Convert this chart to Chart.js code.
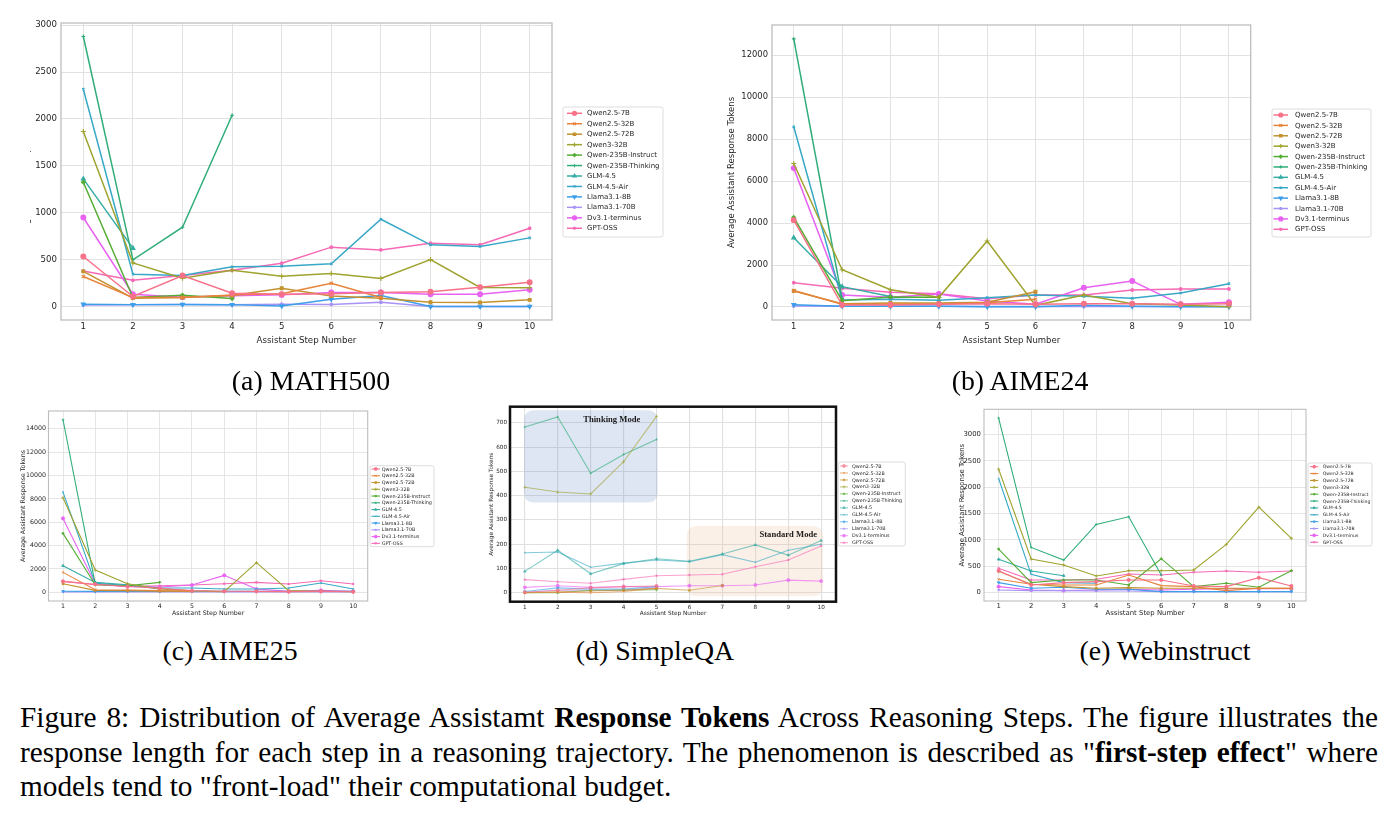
<!DOCTYPE html>
<html><head><meta charset="utf-8">
<script src="https://cdn.jsdelivr.net/npm/chart.js@4.4.0/dist/chart.umd.min.js"></script>
<style>
html,body{margin:0;padding:0;background:#fff;width:1396px;height:818px;overflow:hidden;position:relative;}
canvas{position:absolute;}
.sub{position:absolute;width:400px;text-align:center;font-family:"Liberation Serif","Times New Roman",serif;font-size:27.8px;line-height:30px;color:#000;}
.cap{position:absolute;left:20px;top:700px;width:1358px;font-family:"Liberation Serif","Times New Roman",serif;font-size:29.3px;line-height:34.5px;color:#000;}
.cap .j{text-align:justify;text-align-last:justify;}
.crop{position:absolute;left:0;top:0;width:30px;height:350px;background:#fff;}
</style></head>
<body>
<canvas id="cA" width="680" height="350" style="left:0px;top:0px"></canvas>
<canvas id="cB" width="696" height="350" style="left:700px;top:0px"></canvas>
<canvas id="cC" width="450" height="230" style="left:0px;top:395px"></canvas>
<canvas id="cD" width="450" height="230" style="left:460px;top:395px"></canvas>
<canvas id="cE" width="470" height="230" style="left:920px;top:395px"></canvas>
<div class="crop"></div>

<div class="sub" style="left:111px;top:366px">(a) MATH500</div>
<div class="sub" style="left:820px;top:366px">(b) AIME24</div>
<div class="sub" style="left:30px;top:636px">(c) AIME25</div>
<div class="sub" style="left:455px;top:636px">(d) SimpleQA</div>
<div class="sub" style="left:965px;top:636px">(e) Webinstruct</div>

<div class="cap">
<div class="j">Figure 8: Distribution of Average Assistamt <b>Response Tokens</b> Across Reasoning Steps. The figure illustrates the</div>
<div class="j">response length for each step in a reasoning trajectory. The phenomenon is described as "<b>first-step effect</b>" where</div>
<div>models tend to "front-load" their computational budget.</div>
</div>

<script>
// ---------------- data ----------------
const STEPS = [1, 2, 3, 4, 5, 6, 7, 8, 9, 10];
const MODELS = ['Qwen2.5-7B','Qwen2.5-32B','Qwen2.5-72B','Qwen3-32B','Qwen-235B-Instruct','Qwen-235B-Thinking',
                'GLM-4.5','GLM-4.5-Air','Llama3.1-8B','Llama3.1-70B','Dv3.1-terminus','GPT-OSS'];

// rows follow MODELS order; values per assistant step
const MATH500 = [
  [533, 107, 330, 142, 132, 135, 150, 158, 206, 259],
  [320, 95, 95, 124, 135, 249, 96],
  [375, 89, 95, 118, 195, 112, 89, 46, 43, 71],
  [1866, 465, 302, 387, 323, 352, 300, 501, 203, 200],
  [1326, 96, 120, 85],
  [2880, 498, 846, 2040],
  [1361, 622],
  [2318, 345, 330, 423, 430, 455, 931, 658, 640, 732],
  [25, 20, 22, 20, 5, 78, 117, 0, 0, 0],
  [15, 18, 22, 18, 25, 22, 46, 0, 0, 0],
  [949, 131, 100, 114, 124, 149, 149, 131, 131, 178],
  [378, 279, 330, 387, 462, 633, 604, 675, 658, 835]
];
const AIME24 = [
  [4140, 95, 95, 127, 160, 127, 159, 159, 127, 159],
  [790, 127, 140, 140, 206, 365],
  [762, 159, 190, 190, 222, 730],
  [6841, 1778, 825, 460, 3143, 79, 571, 159, 95, 16],
  [4270, 300, 480, 460],
  [12778, 400],
  [3302, 968, 500],
  [8587, 333, 365, 317, 444, 571, 508, 413, 667, 1111],
  [110, 40, 30, 30, 10, 10, 80, 30, 10, 10],
  [50, 40, 30, 30, 20, 20, 20, 20, 20, 20],
  [6619, 571, 460, 619, 286, 127, 920, 1238, 127, 222],
  [1159, 889, 700, 635, 397, 571, 571, 810, 857, 857]
];
const AIME25 = [
  [941, 700, 500, 350, 150, 100, 80, 60, 80, 50],
  [1711, 228, 200, 150, 100],
  [741, 171, 150, 100, 80],
  [8098, 1910, 741, 300, 130, 60, 2538, 150, 100, 60],
  [5047, 656, 570, 855],
  [14770, 700],
  [2281, 850, 650, 300],
  [8583, 780, 600, 370, 370, 285, 285, 370, 800, 285],
  [90, 80, 80, 80, 80, 80, 80, 80, 80, 80],
  [30, 30, 30, 30, 30, 30, 30, 30, 30, 30],
  [6330, 741, 513, 456, 627, 1454, 285, 86, 171, 86],
  [941, 656, 513, 570, 627, 741, 855, 713, 998, 713]
];
const SIMPLEQA = [
  [2, 10, 20, 25, 28],
  [0, 2, 0, 5, 18],
  [0, 4, 7, 11, 18, 10, 30],
  [435, 415, 407, 540, 727],
  [0, 0, 10, 10, 12],
  [683, 725, 493, 570, 632],
  [88, 175, 78, 120, 140, 130, 160, 197, 155, 215],
  [165, 168, 105, 122, 135, 128, 157, 126, 175, 200],
  [5, 20, 15, 15, 25],
  [2, 10, 10, 10, 20],
  [22, 29, 22, 25, 25, 29, 29, 32, 52, 48],
  [54, 45, 39, 55, 70, 73, 76, 107, 135, 193]
];
const WEBINSTRUCT = [
  [411, 139, 184, 203, 234, 234, 120, 108, 278, 120],
  [247, 152, 139, 139, 329, 127, 108, 32, 76, 76],
  [399, 152, 108, 76, 89, 76, 76, 76, 76, 76],
  [2342, 633, 519, 310, 411, 411, 424, 911, 1620, 1025],
  [823, 184, 234, 234, 139, 639, 108, 171, 95, 411],
  [3316, 854, 614, 1291, 1437, 329],
  [627, 405, 316],
  [2165, 342, 184, 171],
  [184, 76, 95, 57, 57, 13, 13, 13, 13, 13],
  [44, 32, 32, 25, 25, 13, 13, 13, 13, 13],
  [108, 44, 32, 44, 57, 44, 57, 70, 70, 70],
  [456, 234, 234, 247, 348, 329, 380, 405, 380, 405]
];

const YTICKS_A = [0, 500, 1000, 1500, 2000, 2500, 3000];
const YTICKS_B = [0, 2000, 4000, 6000, 8000, 10000, 12000];
const YTICKS_C = [0, 2000, 4000, 6000, 8000, 10000, 12000, 14000];
const YTICKS_D = [0, 100, 200, 300, 400, 500, 600, 700];
const YTICKS_E = [0, 500, 1000, 1500, 2000, 2500, 3000];

// SimpleQA mode regions (data coordinates) and labels
const MODE_LABELS = ['Thinking Mode', 'Standard Mode'];
const MODE_X = [[0.98, 5.03], [5.92, 10.05]];
const MODE_Y = [[372, 752], [-15, 275]];
const MODE_TEXT_POS = [[3.64, 713], [9.0, 238]];

// ---------------- styles ----------------
const COLORS = ['#f77189','#e7843a','#c3922f','#9fa32f','#55ad35','#30ad7a','#35aca4','#38a8c7','#3d9fea','#a893f5','#e862f2','#f66ab5'];
const MARKERS = [
  {s:'circle', k:1.15}, {s:'crossRot', k:1.1}, {s:'rect', k:0.95}, {s:'cross', k:1.2},
  {s:'rectRot', k:0.9}, {s:'cross', k:0.9}, {s:'triangle', k:1.1}, {s:'crossRot', k:0.8},
  {s:'triangle', k:1.1, rot:180}, {s:'star', k:0.9}, {s:'circle', k:1.15}, {s:'star', k:0.9}
];

function rgba(hex, a) {
  const n = parseInt(hex.slice(1), 16);
  return 'rgba(' + ((n >> 16) & 255) + ',' + ((n >> 8) & 255) + ',' + (n & 255) + ',' + a + ')';
}
function rr(ctx, x, y, w, h, r) {
  ctx.beginPath();
  ctx.moveTo(x + r, y);
  ctx.lineTo(x + w - r, y); ctx.quadraticCurveTo(x + w, y, x + w, y + r);
  ctx.lineTo(x + w, y + h - r); ctx.quadraticCurveTo(x + w, y + h, x + w - r, y + h);
  ctx.lineTo(x + r, y + h); ctx.quadraticCurveTo(x, y + h, x, y + h - r);
  ctx.lineTo(x, y + r); ctx.quadraticCurveTo(x, y, x + r, y);
  ctx.closePath();
}

const framePlugin = {
  id: 'frame',
  afterDatasetsDraw(chart, args, o) {
    const {left, top, right, bottom} = chart.chartArea;
    const ctx = chart.ctx;
    ctx.save();
    ctx.strokeStyle = o.color; ctx.lineWidth = o.width;
    ctx.strokeRect(left, top, right - left, bottom - top);
    ctx.restore();
  }
};

const legendPlugin = {
  id: 'boxLegend',
  afterDraw(chart, args, o) {
    const ctx = chart.ctx;
    ctx.save();
    rr(ctx, o.x, o.y, o.w, o.h, 2);
    ctx.fillStyle = 'rgba(255,255,255,0.9)'; ctx.fill();
    ctx.strokeStyle = '#d4d4d4'; ctx.lineWidth = 0.8; ctx.stroke();
    chart.data.datasets.forEach((ds, i) => {
      const y = o.first + i * o.step;
      ctx.strokeStyle = ds.borderColor; ctx.lineWidth = ds.borderWidth;
      ctx.beginPath(); ctx.moveTo(o.lx0, y); ctx.lineTo(o.lx1, y); ctx.stroke();
      ctx.fillStyle = ds.backgroundColor; ctx.strokeStyle = ds.pointBorderColor;
      ctx.lineWidth = ds.pointBorderWidth;
      Chart.helpers.drawPoint(ctx, {pointStyle: ds.pointStyle, rotation: ds.rotation || 0,
        radius: ds.pointRadius * o.mk, borderWidth: ds.pointBorderWidth}, (o.lx0 + o.lx1) / 2, y);
      ctx.fillStyle = '#262626';
      ctx.font = o.font + 'px "DejaVu Sans"';
      ctx.textBaseline = 'middle'; ctx.textAlign = 'left';
      ctx.fillText(ds.label, o.tx, y + 0.3);
    });
    ctx.restore();
  }
};

const modePlugin = {
  id: 'modes',
  beforeDatasetsDraw(chart, args, o) {
    if (!o.on) return;
    const ctx = chart.ctx, xs = chart.scales.x, ys = chart.scales.y;
    ctx.save();
    const fills = ['rgba(90,130,195,0.2)', 'rgba(238,185,150,0.22)'];
    MODE_X.forEach((xr, i) => {
      const x0 = xs.getPixelForValue(xr[0]), x1 = xs.getPixelForValue(xr[1]);
      const y0 = ys.getPixelForValue(MODE_Y[i][1]), y1 = ys.getPixelForValue(MODE_Y[i][0]);
      rr(ctx, x0, y0, x1 - x0, y1 - y0, 10);
      ctx.fillStyle = fills[i]; ctx.fill();
    });
    ctx.restore();
  },
  afterDatasetsDraw(chart, args, o) {
    if (!o.on) return;
    const ctx = chart.ctx, xs = chart.scales.x, ys = chart.scales.y;
    ctx.save();
    ctx.fillStyle = '#1a1a1a';
    ctx.font = 'bold 8.6px "Liberation Serif"';
    ctx.textAlign = 'center'; ctx.textBaseline = 'middle';
    MODE_LABELS.forEach((t, i) => {
      ctx.fillText(t, xs.getPixelForValue(MODE_TEXT_POS[i][0]), ys.getPixelForValue(MODE_TEXT_POS[i][1]));
    });
    ctx.restore();
  }
};

function makeChart(id, rows, yticks, c) {
  const datasets = rows.map((vals, i) => {
    const col = rgba(COLORS[i], c.alpha);
    const m = MARKERS[i];
    return {
      label: MODELS[i],
      data: vals.map((v, j) => ({x: STEPS[j], y: v})),
      borderColor: col, backgroundColor: col, pointBorderColor: col,
      borderWidth: c.lw, pointBorderWidth: c.pbw,
      pointStyle: m.s, rotation: m.rot || 0, pointRadius: c.pr * m.k,
      tension: 0, fill: false
    };
  });
  const tickFont = {family: 'DejaVu Sans', size: c.tf};
  const titleFont = {family: 'DejaVu Sans', size: c.ttf};
  new Chart(document.getElementById(id), {
    type: 'line',
    data: {datasets},
    plugins: [modePlugin, framePlugin, legendPlugin],
    options: {
      animation: false, responsive: false, devicePixelRatio: 1, events: [],
      layout: {padding: c.pad},
      plugins: {
        legend: {display: false}, tooltip: {enabled: false},
        frame: {color: c.frameColor, width: c.frameWidth},
        boxLegend: c.legend,
        modes: {on: !!c.modes}
      },
      scales: {
        x: {
          type: 'linear', min: 0.55, max: 10.45,
          afterBuildTicks: s => { s.ticks = STEPS.map(v => ({value: v})); },
          afterFit: s => { s.height = c.xh; },
          ticks: {font: tickFont, color: '#262626', padding: c.xpad, maxRotation: 0, autoSkip: false,
                  callback: v => String(v)},
          grid: {color: c.grid, lineWidth: c.glw, drawTicks: false},
          border: {display: false},
          title: {display: true, text: 'Assistant Step Number', font: titleFont, color: '#262626', padding: {top: 4, bottom: 4}}
        },
        y: {
          type: 'linear', min: c.ymin, max: c.ymax,
          afterBuildTicks: s => { s.ticks = yticks.map(v => ({value: v})); },
          afterFit: s => { s.width = c.yw; },
          ticks: {font: tickFont, color: '#262626', padding: c.ypad, callback: v => String(v)},
          grid: {color: c.grid, lineWidth: c.glw, drawTicks: false},
          border: {display: false},
          title: {display: true, text: 'Average Assistant Response Tokens', font: titleFont, color: '#262626', padding: {top: 4, bottom: 4}}
        }
      }
    }
  });
}

makeChart('cA', MATH500, YTICKS_A, {
  ymin: -144, ymax: 3024, pad: {left: 18, top: 23, right: 128, bottom: 0}, yw: 43, xh: 30,
  tf: 8.6, ttf: 8.7, xpad: 2, ypad: 4, lw: 1.5, pbw: 1.1, pr: 2.1, alpha: 1,
  grid: '#e2e2e2', glw: 1, frameColor: '#bdbdbd', frameWidth: 1.3,
  legend: {x: 563, y: 107, w: 100, h: 130, first: 113.3, step: 10.45, lx0: 567, lx1: 582, tx: 587, font: 7, mk: 0.85}
});
makeChart('cB', AIME24, YTICKS_B, {
  ymin: -620, ymax: 13440, pad: {left: 23, top: 25, right: 145.3, bottom: 0}, yw: 49, xh: 30,
  tf: 8.4, ttf: 8.5, xpad: 2, ypad: 4, lw: 1.5, pbw: 1.1, pr: 2.1, alpha: 1,
  grid: '#e2e2e2', glw: 1, frameColor: '#bdbdbd', frameWidth: 1.3,
  legend: {x: 572, y: 109, w: 99, h: 128, first: 115, step: 10.39, lx0: 573.5, lx1: 588, tx: 595, font: 7, mk: 0.85}
});
makeChart('cC', AIME25, YTICKS_C, {
  ymin: -740, ymax: 15520, pad: {left: 15.2, top: 16, right: 82.3, bottom: 4}, yw: 33.3, xh: 20,
  tf: 6.3, ttf: 6.3, xpad: 1.5, ypad: 2.5, lw: 1.1, pbw: 0.8, pr: 1.4, alpha: 1,
  grid: '#e2e2e2', glw: 0.9, frameColor: '#bdbdbd', frameWidth: 1.1,
  legend: {x: 370, y: 70.7, w: 64, h: 81, first: 74, step: 6.76, lx0: 371.5, lx1: 380, tx: 381.7, font: 4.85, mk: 0.9}
});
makeChart('cD', SIMPLEQA, YTICKS_D, {
  ymin: -37, ymax: 767, pad: {left: 24.2, top: 11.7, right: 74, bottom: 4}, yw: 25.8, xh: 19.3,
  tf: 5.7, ttf: 5.8, xpad: 2, ypad: 3, lw: 1.1, pbw: 0.8, pr: 1.4, alpha: 0.62,
  grid: '#e0e0e0', glw: 1.1, frameColor: '#111111', frameWidth: 2.5, modes: true,
  legend: {x: 378.3, y: 67, w: 67, h: 84, first: 71, step: 6.97, lx0: 380, lx1: 388, tx: 392, font: 4.85, mk: 0.9}
});
makeChart('cE', WEBINSTRUCT, YTICKS_E, {
  ymin: -166, ymax: 3482, pad: {left: 33.6, top: 14.3, right: 84, bottom: 4}, yw: 30.4, xh: 20,
  tf: 6.9, ttf: 6.9, xpad: 1.5, ypad: 3, lw: 1.1, pbw: 0.8, pr: 1.4, alpha: 1,
  grid: '#e2e2e2', glw: 0.9, frameColor: '#bdbdbd', frameWidth: 1.1,
  legend: {x: 388, y: 68, w: 64, h: 83, first: 71.7, step: 6.87, lx0: 390, lx1: 398.3, tx: 402.7, font: 4.6, mk: 0.9}
});
</script>
</body></html>
